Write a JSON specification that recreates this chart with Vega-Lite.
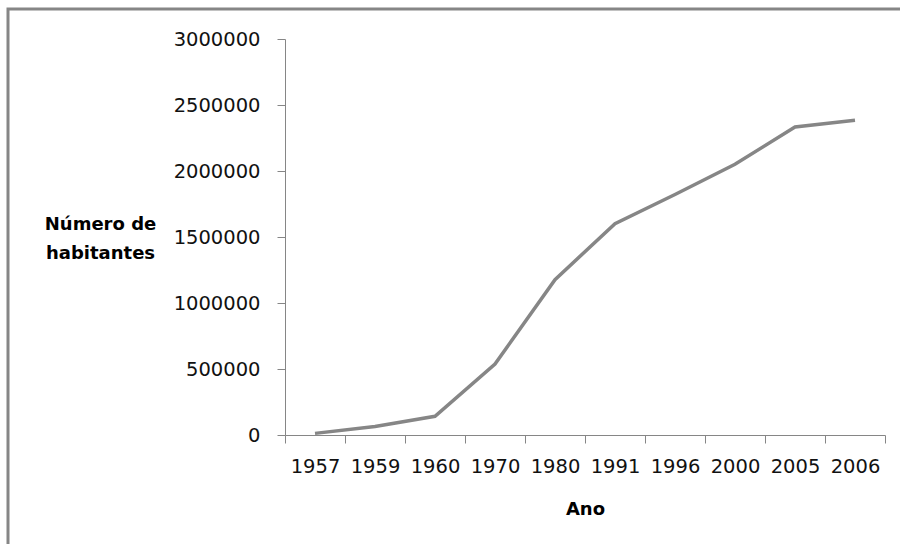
{
  "$schema": "https://vega.github.io/schema/vega-lite/v6.json",
  "width": 900,
  "height": 545,
  "autosize": "none",
  "padding": {"left": 8, "top": 9, "right": -8, "bottom": -10},
  "background": "white",
  "config": {
    "view": {"stroke": "#868686", "strokeWidth": 3, "fill": "white"},
    "font": "DejaVu Sans"
  },
  "data": {
    "values": [
      {"ano": "1957", "hab": 12283},
      {"ano": "1959", "hab": 64314},
      {"ano": "1960", "hab": 141742},
      {"ano": "1970", "hab": 537492},
      {"ano": "1980", "hab": 1176935},
      {"ano": "1991", "hab": 1601094},
      {"ano": "1996", "hab": 1821946},
      {"ano": "2000", "hab": 2051146},
      {"ano": "2005", "hab": 2333108},
      {"ano": "2006", "hab": 2383784}
    ]
  },
  "mark": {"type": "line", "color": "#868686", "strokeWidth": 3.5},
  "encoding": {
    "x": {
      "field": "ano",
      "type": "ordinal",
      "sort": null,
      "scale": {"type": "band", "range": [277, 877], "paddingInner": 0, "paddingOuter": 0},
      "axis": {
        "offset": -119,
        "tickBand": "extent",
        "labelAngle": 0,
        "labelFontSize": 19.5,
        "labelColor": "#111",
        "labelPadding": 14,
        "tickSize": 8,
        "tickColor": "#868686",
        "domainColor": "#868686",
        "grid": false,
        "title": "Ano",
        "titleFontSize": 18,
        "titleFontWeight": "bold",
        "titleColor": "#000",
        "titleBaseline": "alphabetic",
        "titleY": 79
      }
    },
    "y": {
      "field": "hab",
      "type": "quantitative",
      "scale": {"domain": [0, 3000000], "range": [426, 30], "nice": false, "zero": true},
      "axis": {
        "offset": -277,
        "values": [0, 500000, 1000000, 1500000, 2000000, 2500000, 3000000],
        "format": "d",
        "labelFontSize": 19.5,
        "labelColor": "#111",
        "labelPadding": 17,
        "tickSize": 8,
        "tickColor": "#868686",
        "domainColor": "#868686",
        "grid": false,
        "title": ["Número de", "habitantes"],
        "titleAngle": 0,
        "titleAlign": "center",
        "titleBaseline": "alphabetic",
        "titleFontSize": 18,
        "titleFontWeight": "bold",
        "titleColor": "#000",
        "titleLineHeight": 29,
        "titleX": -185,
        "titleY": 220
      }
    }
  }
}
